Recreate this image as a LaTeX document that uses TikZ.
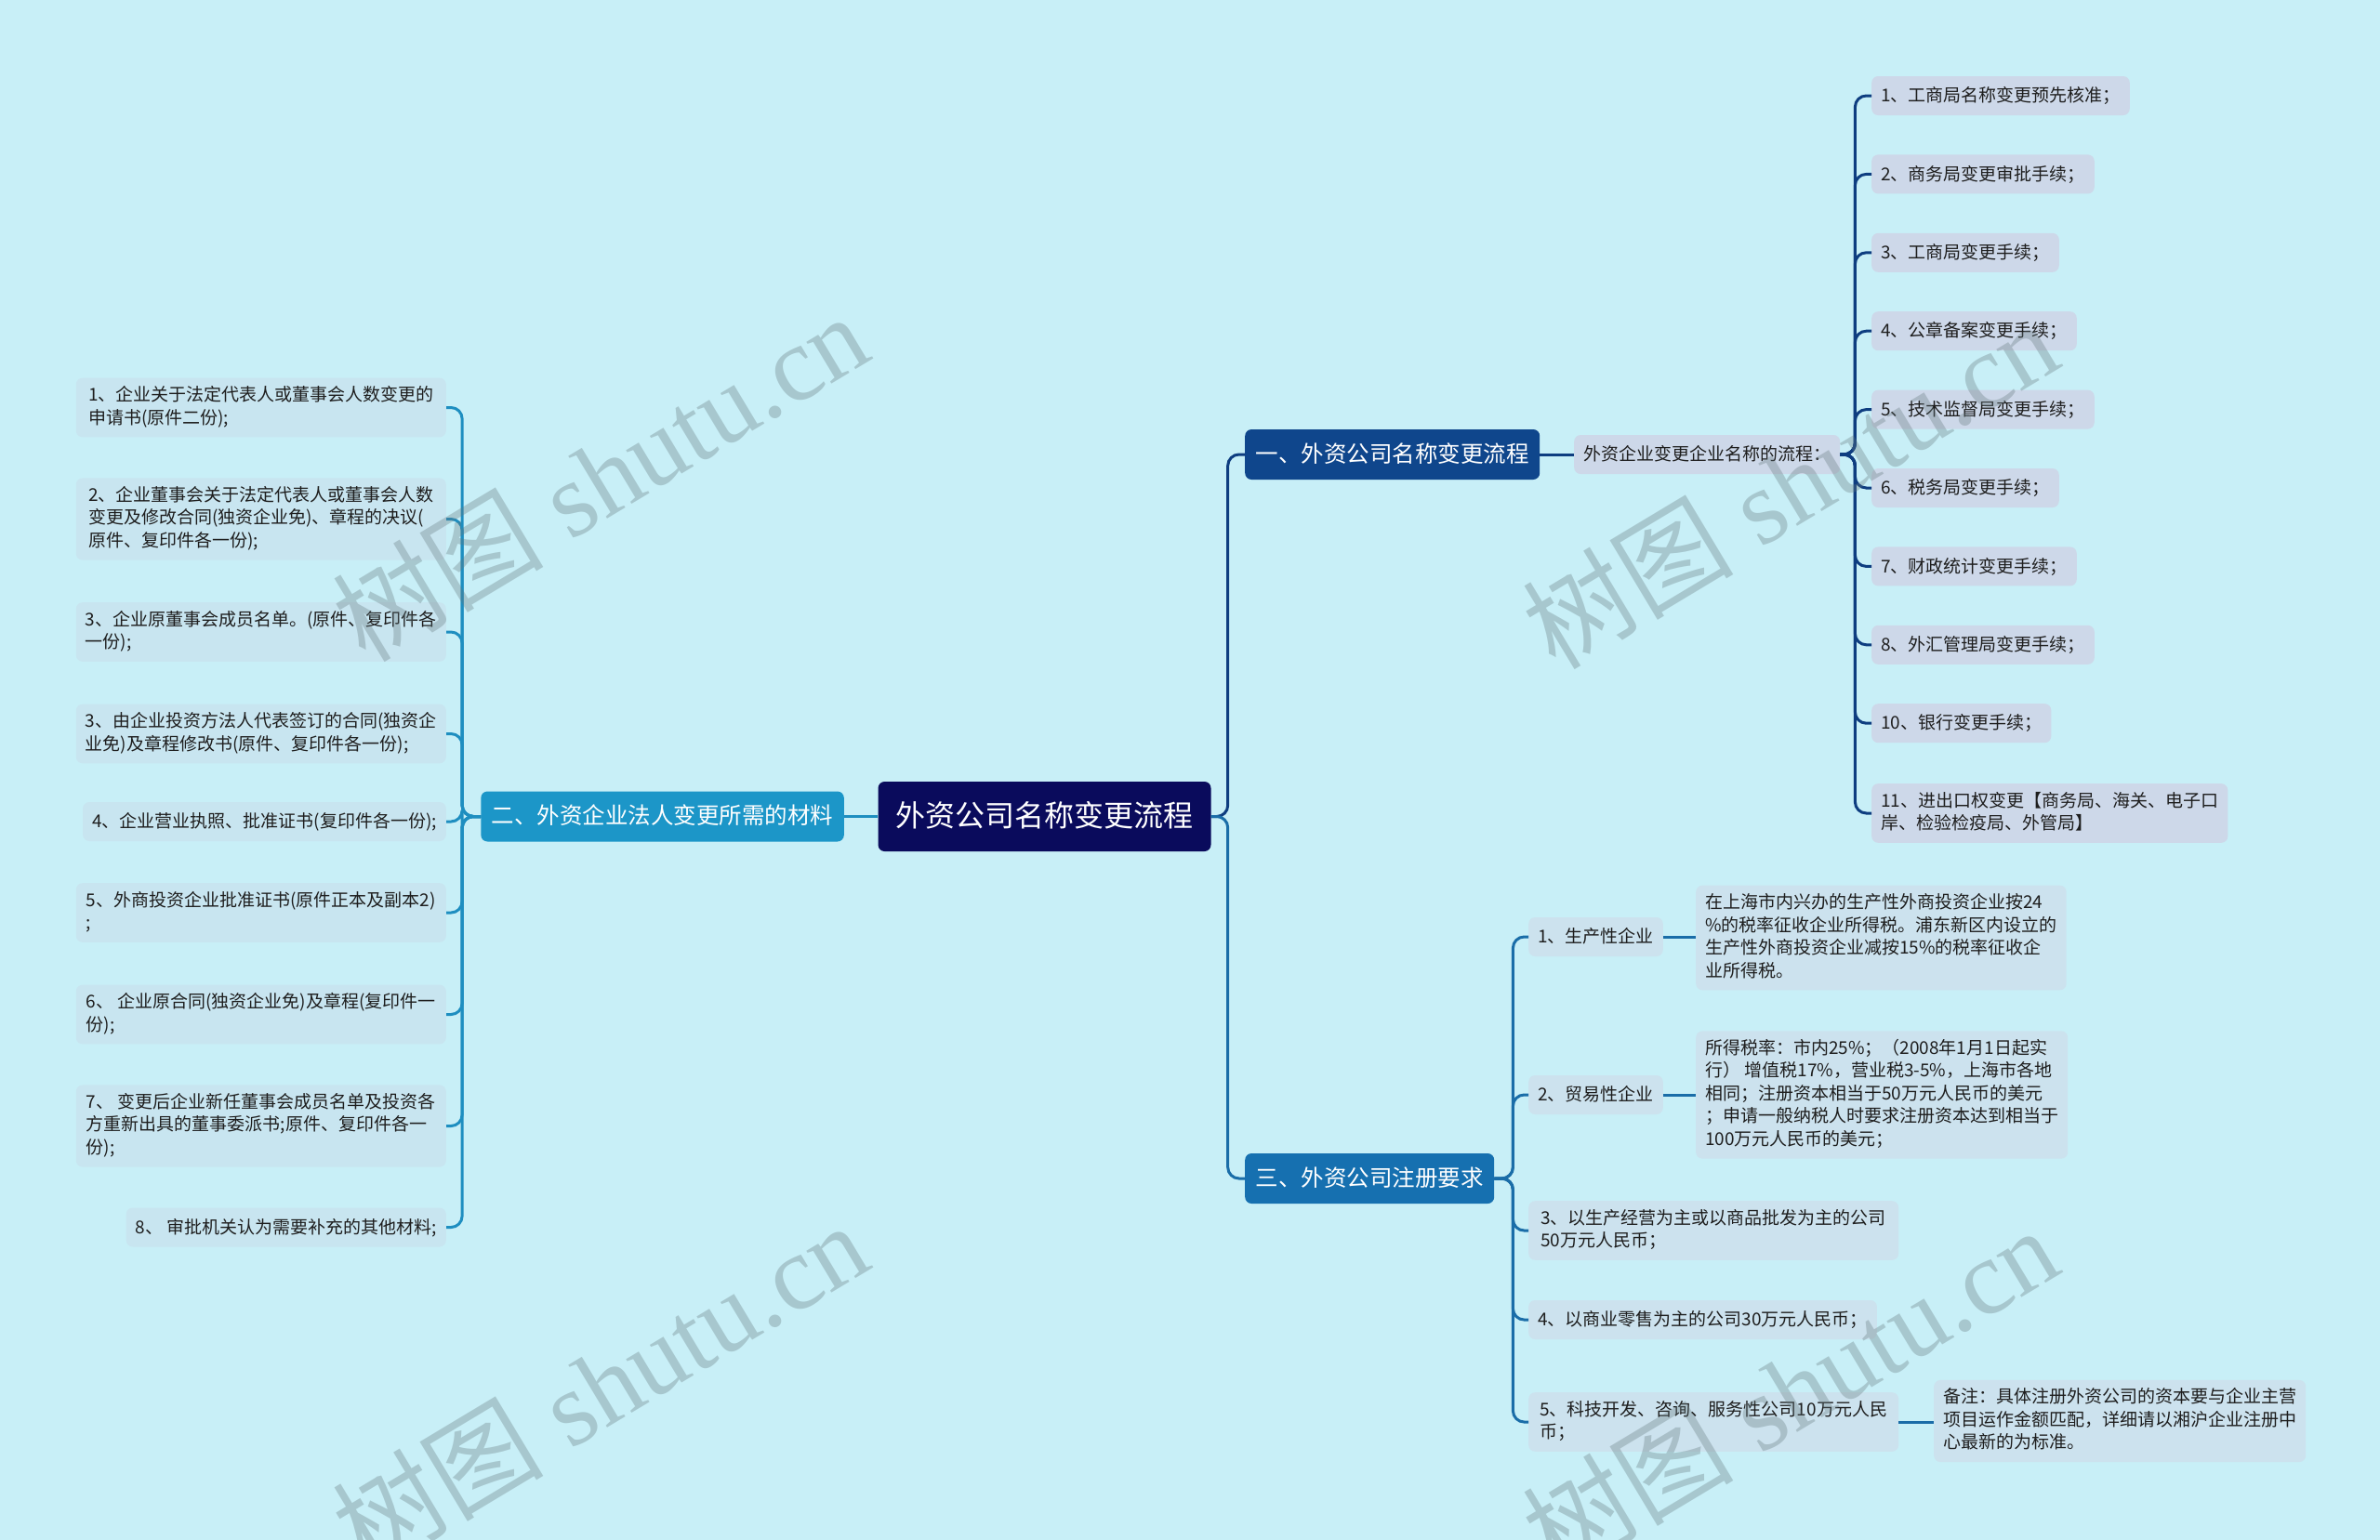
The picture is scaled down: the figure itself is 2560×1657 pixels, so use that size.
\documentclass[tikz,border=0pt]{standalone}
\usepackage{fontspec}
\newfontfamily\cjk{Noto Sans CJK SC}
\newfontfamily\wmlatin{Liberation Serif}
\definecolor{bg}{HTML}{C8EFF7}
\definecolor{cfill}{HTML}{0A0B5C}
\definecolor{bAfill}{HTML}{0F468C}
\definecolor{bLfill}{HTML}{1C96C8}
\definecolor{bCfill}{HTML}{1670B0}
\definecolor{rfill}{HTML}{CDD8E9}
\definecolor{lfill}{HTML}{C8E5F0}
\definecolor{bfill}{HTML}{CCE2EE}
\definecolor{txt}{HTML}{1E1E1E}
\definecolor{cA}{HTML}{0E3D80}
\definecolor{cC}{HTML}{1A6DA8}
\definecolor{cL}{HTML}{1E8EC0}
\definecolor{wm}{RGB}{100,120,125}
\newcommand\vst{\rule[-5.5pt]{0pt}{24.5pt}}
\begin{document}
\begin{tikzpicture}[x=1pt,y=-1pt,
  box/.style={font=\cjk\fontsize{19}{24.5}\selectfont, align=left, rounded corners=7pt,
    inner xsep=10pt, inner ysep=8.75pt, execute at begin node=\vst, execute at end node=\vst, text=txt},
  litem/.style={box, fill=lfill, anchor=east},
  wide/.style={minimum width=398pt},
  ritem/.style={box, fill=rfill, anchor=west},
  bitem/.style={box, fill=bfill, anchor=west},
  titlebox/.style={font=\cjk\fontsize{32}{38}\selectfont, fill=cfill, text=white, rounded corners=7pt,
    inner xsep=19pt, inner ysep=21pt, text height=27pt, text depth=6pt},
  branchbox/.style={font=\cjk\fontsize{24.5}{30}\selectfont, text=white, rounded corners=7pt,
    inner xsep=11.5pt, inner ysep=14.5pt, text height=20.5pt, text depth=4.5pt},
  conn/.style={line width=3pt, rounded corners=12pt},
  wmark/.style={rotate=31, text=wm, text opacity=0.33, font=\wmlatin\fontsize{114}{120}\selectfont}
]
\fill[bg] (0,0) rectangle (2560,1657);
\useasboundingbox (0,0) rectangle (2560,1657);

% central
\node[titlebox] (ctr) at (1123.5,878.5) {外资公司名称变更流程};

% branches
\node[branchbox, fill=bAfill, anchor=west] (bA) at (1339,489) {一、外资公司名称变更流程};
\node[branchbox, fill=bLfill, anchor=east] (bL) at (908,878.5) {二、外资企业法人变更所需的材料};
\node[branchbox, fill=bCfill, anchor=west] (bC) at (1339,1268) {三、外资公司注册要求};

% branch A
\node[box, fill=rfill, anchor=west] (flow) at (1693,489) {外资企业变更企业名称的流程：};
\node[ritem] (r1) at (2013,103) {1、工商局名称变更预先核准；};
\node[ritem] (r2) at (2013,187.4) {2、商务局变更审批手续；};
\node[ritem] (r3) at (2013,271.8) {3、工商局变更手续；};
\node[ritem] (r4) at (2013,356.2) {4、公章备案变更手续；};
\node[ritem] (r5) at (2013,440.6) {5、技术监督局变更手续；};
\node[ritem] (r6) at (2013,525) {6、税务局变更手续；};
\node[ritem] (r7) at (2013,609.4) {7、财政统计变更手续；};
\node[ritem] (r8) at (2013,693.8) {8、外汇管理局变更手续；};
\node[ritem] (r10) at (2013,778.2) {10、银行变更手续；};
\node[ritem] (r11) at (2013,875) {11、进出口权变更【商务局、海关、电子口\\岸、检验检疫局、外管局】};

% branch L
\node[litem, wide] (l1) at (480,438.5) {1、企业关于法定代表人或董事会人数变更的\\申请书(原件二份);};
\node[litem, wide] (l2) at (480,558.5) {2、企业董事会关于法定代表人或董事会人数\\变更及修改合同(独资企业免)、章程的决议(\\原件、复印件各一份);};
\node[litem, wide] (l3) at (480,680) {3、企业原董事会成员名单。(原件、复印件各\\一份);};
\node[litem, wide] (l3b) at (480,789.5) {3、由企业投资方法人代表签订的合同(独资企\\业免)及章程修改书(原件、复印件各一份);};
\node[litem] (l4) at (480,884) {4、企业营业执照、批准证书(复印件各一份);};
\node[litem, wide] (l5) at (480,982) {5、外商投资企业批准证书(原件正本及副本2)\\;};
\node[litem, wide] (l6) at (480,1091.5) {6、 企业原合同(独资企业免)及章程(复印件一\\份);};
\node[litem, wide] (l7) at (480,1211.5) {7、 变更后企业新任董事会成员名单及投资各\\方重新出具的董事委派书;原件、复印件各一\\份);};
\node[litem] (l8) at (480,1320.5) {8、 审批机关认为需要补充的其他材料;};

% branch C
\node[bitem] (c1) at (1644,1008) {1、生产性企业};
\node[bitem, wide] (d1) at (1824,1009) {在上海市内兴办的生产性外商投资企业按24\\\%的税率征收企业所得税。浦东新区内设立的\\生产性外商投资企业减按15\%的税率征收企\\业所得税。};
\node[bitem] (c2) at (1644,1178) {2、贸易性企业};
\node[bitem, wide] (d2) at (1824,1178) {所得税率：市内25\%；（2008年1月1日起实\\行） 增值税17\%，营业税3-5\%，上海市各地\\相同；注册资本相当于50万元人民币的美元\\；申请一般纳税人时要求注册资本达到相当于\\100万元人民币的美元；};
\node[bitem, wide] (c3) at (1644,1324) {3、以生产经营为主或以商品批发为主的公司\\50万元人民币；};
\node[bitem] (c4) at (1644,1420) {4、以商业零售为主的公司30万元人民币；};
\node[bitem, wide] (c5) at (1644,1530) {5、科技开发、咨询、服务性公司10万元人民\\币；};
\node[bitem, wide] (note) at (2080,1529) {备注：具体注册外资公司的资本要与企业主营\\项目运作金额匹配，详细请以湘沪企业注册中\\心最新的为标准。};

% connectors: centre
\draw[conn, draw=cA] (ctr.east) -- ([xshift=18pt]ctr.east) |- (bA.west);
\draw[conn, draw=cC] (ctr.east) -- ([xshift=18pt]ctr.east) |- (bC.west);
\draw[conn, draw=cL] (ctr.west) -- (bL.east);

% branch A connectors
\draw[conn, draw=cA] (bA.east) -- (flow.west);
\foreach \n in {r1,r2,r3,r4,r5,r6,r7,r8,r10,r11}
  \draw[conn, draw=cA] (flow.east) -- ([xshift=16pt]flow.east) |- (\n.west);

% branch L connectors
\foreach \n in {l1,l2,l3,l3b,l4,l5,l6,l7,l8}
  \draw[conn, draw=cL] (bL.west) -- ([xshift=-20pt]bL.west) |- (\n.east);

% branch C connectors
\foreach \n in {c1,c2,c3,c4,c5}
  \draw[conn, draw=cC] (bC.east) -- ([xshift=20pt]bC.east) |- (\n.west);
\draw[conn, draw=cC] (c1.east) -- (c1.east -| d1.west);
\draw[conn, draw=cC] (c2.east) -- (c2.east -| d2.west);
\draw[conn, draw=cC] (c5.east) -- (c5.east -| note.west);

% watermarks
\node[wmark] (wm1) at (645,513) {{\cjk 树图} shutu.cn};
\node[wmark] (wm2) at (1925,521) {{\cjk 树图} shutu.cn};
\node[wmark] (wm3) at (645,1491) {{\cjk 树图} shutu.cn};
\node[wmark] (wm4) at (1925,1496) {{\cjk 树图} shutu.cn};
\end{tikzpicture}
\end{document}
